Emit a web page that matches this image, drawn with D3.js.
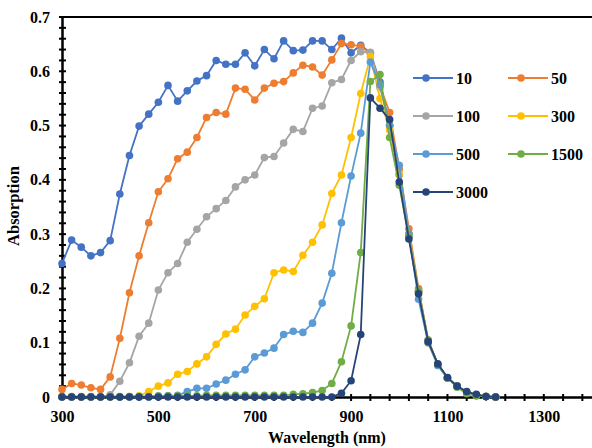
<!DOCTYPE html>
<html><head><meta charset="utf-8">
<script src="https://cdn.jsdelivr.net/npm/d3@7"></script>
<style>body{margin:0;background:#fff}svg{display:block}text{font-family:"Liberation Serif","Times New Roman",serif;font-weight:bold;fill:#000}</style>
</head><body>
<svg id="c" width="592" height="448"></svg>
<script>
const wavelengths = [300,320,340,360,380,400,420,440,460,480,500,520,540,560,580,600,620,640,660,680,700,720,740,760,780,800,820,840,860,880,900,920,940,960,980,1000,1020,1040,1060,1080,1100,1120,1140,1160,1180,1200];
const s10 = [0.246,0.289,0.276,0.260,0.266,0.288,0.374,0.445,0.499,0.521,0.543,0.574,0.545,0.564,0.582,0.592,0.620,0.613,0.613,0.634,0.610,0.640,0.623,0.656,0.638,0.639,0.656,0.656,0.640,0.661,0.634,0.648,0.634,0.580,0.500,0.410,0.300,0.195,0.103,0.060,0.035,0.020,0.008,0.003,0.001,0];
const s50 = [0.014,0.025,0.022,0.017,0.014,0.037,0.108,0.192,0.260,0.321,0.378,0.402,0.439,0.451,0.478,0.515,0.524,0.521,0.569,0.567,0.547,0.569,0.578,0.581,0.597,0.611,0.608,0.593,0.621,0.651,0.649,0.646,0.633,0.573,0.524,0.420,0.310,0.200,0.105,0.060,0.035,0.020,0.008,0.003,0.001,0];
const s100 = [0,0,0,0,0,0.004,0.029,0.063,0.112,0.136,0.197,0.229,0.246,0.285,0.309,0.332,0.347,0.362,0.387,0.400,0.409,0.441,0.443,0.468,0.493,0.489,0.532,0.536,0.579,0.585,0.620,0.636,0.635,0.570,0.500,0.410,0.300,0.195,0.102,0.060,0.035,0.020,0.008,0.003,0.001,0];
const s300 = [0,0,0,0,0,0,0,0.001,0.002,0.010,0.020,0.026,0.042,0.047,0.061,0.074,0.097,0.116,0.125,0.151,0.167,0.181,0.229,0.234,0.231,0.261,0.285,0.317,0.375,0.409,0.478,0.559,0.627,0.550,0.492,0.410,0.300,0.190,0.100,0.058,0.035,0.020,0.008,0.003,0.001,0];
const s500 = [0,0,0,0,0,0,0,0,0,0,0.001,0.002,0.003,0.010,0.016,0.016,0.024,0.031,0.042,0.050,0.074,0.081,0.090,0.115,0.121,0.119,0.136,0.173,0.228,0.321,0.407,0.486,0.617,0.575,0.500,0.427,0.300,0.180,0.100,0.058,0.035,0.020,0.008,0.003,0.001,0];
const s1500 = [0.001,0.001,0.001,0.001,0.001,0.001,0.001,0.001,0.001,0.001,0.002,0.002,0.002,0.002,0.002,0.003,0.003,0.003,0.003,0.003,0.003,0.003,0.003,0.003,0.005,0.006,0.008,0.012,0.025,0.065,0.131,0.266,0.581,0.594,0.478,0.390,0.295,0.195,0.105,0.060,0.035,0.018,0.006,0.002,0.001,0];
const s3000 = [0,0,0,0,0,0,0,0,0,0,0,0,0,0,0,0,0,0,0,0,0,0,0,0,0,0,0,0,0,0.007,0.030,0.115,0.551,0.532,0.511,0.396,0.291,0.190,0.102,0.061,0.036,0.020,0.010,0.005,0.001,0];
const seriesNames = ["10","50","100","300","500","1500","3000"];
const seriesValues = [s10,s50,s100,s300,s500,s1500,s3000];
const seriesColors = ["#4472C4","#ED7D31","#A5A5A5","#FFC000","#5B9BD5","#70AD47","#264478"];
const xTicks = [300,500,700,900,1100,1300];
const yTicks = [0,0.1,0.2,0.3,0.4,0.5,0.6,0.7];

const svg = d3.select("#c");
const x = d3.scaleLinear().domain([300,1400]).range([62,592]);
const y = d3.scaleLinear().domain([0,0.7]).range([397,17]);

// top border
svg.append("line").attr("x1",62).attr("x2",592).attr("y1",y(0.7)).attr("y2",y(0.7)).attr("stroke","#000").attr("stroke-width",2);

// minor ticks
const xMinor = d3.range(300,1401,40);
svg.append("g").selectAll("line").data(xMinor).join("line")
  .attr("x1",d=>x(d)).attr("x2",d=>x(d)).attr("y1",y(0)-3).attr("y2",y(0)+4)
  .attr("stroke","#000").attr("stroke-width",2);
const yMinor = d3.range(0,0.7001,0.02);
svg.append("g").selectAll("line").data(yMinor).join("line")
  .attr("x1",x(300)-3).attr("x2",x(300)+4).attr("y1",d=>y(d)).attr("y2",d=>y(d))
  .attr("stroke","#000").attr("stroke-width",2);

// axes
const xAxis = d3.axisBottom(x).tickValues(xTicks).tickSize(0).tickPadding(14).tickFormat(d3.format("d"));
const gx = svg.append("g").attr("transform",`translate(0,${y(0)})`).call(xAxis);
gx.select(".domain").attr("stroke","#000").attr("stroke-width",2.5);
gx.selectAll("text").style("font-size","16px").style("font-family",'"Liberation Serif",serif').style("font-weight","bold");
const yAxis = d3.axisLeft(y).tickValues(yTicks).tickSize(0).tickPadding(12).tickFormat(d=>d===0?"0":d3.format(".1f")(d));
const gy = svg.append("g").attr("transform",`translate(${x(300)},0)`).call(yAxis);
gy.select(".domain").attr("stroke","#000").attr("stroke-width",2.5);
gy.selectAll("text").style("font-size","16px").style("font-family",'"Liberation Serif",serif').style("font-weight","bold");

// titles
svg.append("text").attr("x",327).attr("y",443).attr("text-anchor","middle").style("font-size","16px").text("Wavelength (nm)");
svg.append("text").attr("transform","translate(19,206) rotate(-90)").attr("text-anchor","middle").style("font-size","16.5px").text("Absorption");

// series
const line = d3.line().x((d,i)=>x(wavelengths[i])).y(d=>y(d));
seriesValues.forEach((vals,k)=>{
  const g = svg.append("g");
  g.append("path").datum(vals).attr("d",line).attr("fill","none").attr("stroke",seriesColors[k]).attr("stroke-width",1.8);
  g.selectAll("circle").data(vals).join("circle")
    .attr("cx",(d,i)=>x(wavelengths[i])).attr("cy",d=>y(d)).attr("r",3.8).attr("fill",seriesColors[k]);
});

// legend
const legPos = [[413,78],[508,78],[413,116],[508,116],[413,154],[508,154],[413,192]];
seriesNames.forEach((n,k)=>{
  const [lx,ly] = legPos[k];
  const g = svg.append("g");
  g.append("line").attr("x1",lx).attr("x2",lx+40).attr("y1",ly).attr("y2",ly).attr("stroke",seriesColors[k]).attr("stroke-width",1.8);
  g.append("circle").attr("cx",lx+13).attr("cy",ly).attr("r",3.8).attr("fill",seriesColors[k]);
  g.append("text").attr("x",lx+43).attr("y",ly+5.5).style("font-size","16px").text(n);
});
</script>
</body></html>
